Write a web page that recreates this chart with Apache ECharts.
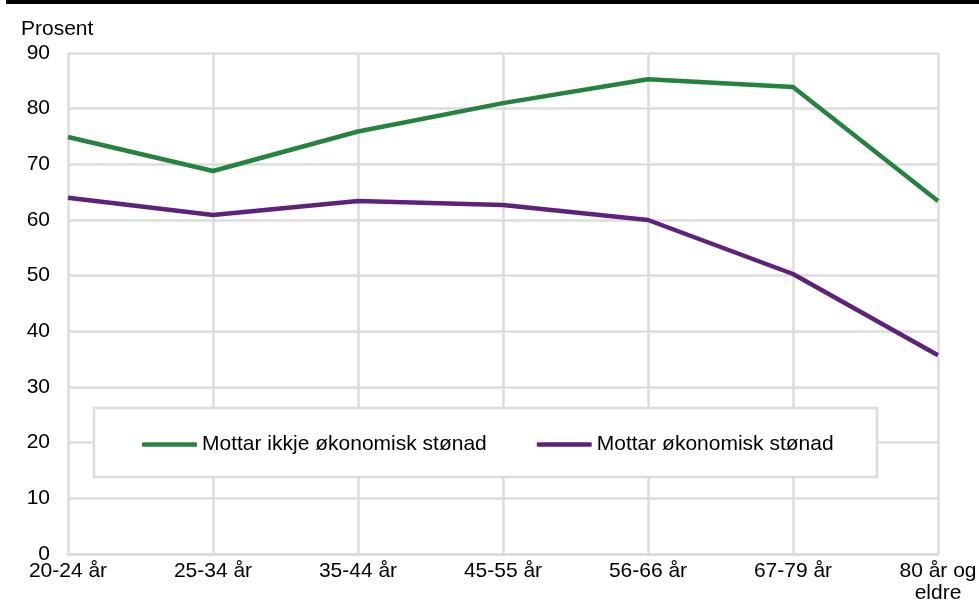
<!DOCTYPE html>
<html>
<head>
<meta charset="utf-8">
<script src="https://cdn.jsdelivr.net/npm/echarts@6/dist/echarts.min.js"></script>
<style>
  html, body { margin: 0; padding: 0; background: #fff; }
  #chart { width: 979px; height: 601px; }
</style>
</head>
<body>
<div id="chart"></div>
<script>
let categories = ['20-24 år', '25-34 år', '35-44 år', '45-55 år', '56-66 år', '67-79 år', '80 år og eldre'];
let ikkjeStonad = [74.9, 68.8, 75.9, 81.0, 85.3, 83.9, 63.4];
let medStonad = [64.0, 60.9, 63.4, 62.7, 60.0, 50.3, 35.7];
let seriesNames = ['Mottar ikkje økonomisk stønad', 'Mottar økonomisk stønad'];

let chart = echarts.init(document.getElementById('chart'));
let font = 'Arial, "Liberation Sans", sans-serif';
let gridColor = '#dcdcdc';

let option = {
    animation: false,
    textStyle: { fontFamily: font },
    grid: {
        left: 68,
        right: 41,
        top: 53,
        bottom: 47,
        containLabel: false,
        outerBoundsMode: 'none'
    },
    graphic: [
        // black rule at the top
        { type: 'rect', shape: { x: 6, y: 0, width: 973, height: 4 }, style: { fill: '#000' }, z: 10 },
        { type: 'text', left: 21, top: 19, style: { text: 'Prosent', font: '21px ' + font, fill: '#000' } },
        // legend box
        { type: 'rect', shape: { x: 94, y: 408, width: 783, height: 69 },
          style: { fill: '#fff', stroke: gridColor, lineWidth: 2.5 }, z: 3 }
    ],
    legend: {
        left: 142,
        top: 434,
        padding: 0,
        z: 4,
        itemWidth: 55,
        itemHeight: 4.5,
        itemGap: 50,
        icon: 'roundRect',
        textStyle: { fontSize: 21, color: '#000', fontFamily: font },
        data: seriesNames
    },
    xAxis: {
        type: 'category',
        data: categories,
        boundaryGap: false,
        axisLine: { lineStyle: { color: gridColor, width: 2.5 } },
        axisTick: { show: false },
        splitLine: { show: true, lineStyle: { color: gridColor, width: 2.5 } },
        axisLabel: {
            color: '#000',
            fontSize: 21,
            lineHeight: 22,
            margin: 6,
            interval: 0,
            formatter: v => v.replace(' og ', ' og\n')
        }
    },
    yAxis: {
        type: 'value',
        min: 0,
        max: 90,
        interval: 10,
        axisLine: { show: false },
        axisTick: { show: false },
        splitLine: { lineStyle: { color: gridColor, width: 2.5 } },
        axisLabel: { color: '#000', fontSize: 21, margin: 18 }
    },
    series: [
        {
            name: seriesNames[0],
            type: 'line',
            data: ikkjeStonad,
            symbol: 'none',
            lineStyle: { width: 4.5, color: '#23833f' },
            itemStyle: { color: '#23833f' }
        },
        {
            name: seriesNames[1],
            type: 'line',
            data: medStonad,
            symbol: 'none',
            lineStyle: { width: 4.5, color: '#5e227d' },
            itemStyle: { color: '#5e227d' }
        }
    ]
};
option && chart.setOption(option);
</script>
</body>
</html>
